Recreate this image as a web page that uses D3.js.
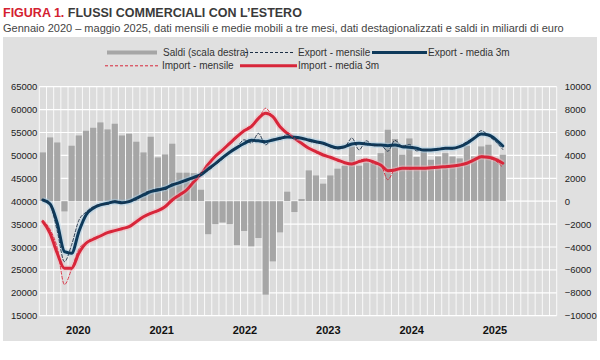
<!DOCTYPE html>
<html><head><meta charset="utf-8">
<script src="https://cdn.jsdelivr.net/npm/d3@7"></script>
<style>
html,body{margin:0;padding:0;background:#fff;}
svg{display:block;}
text{font-family:"Liberation Sans Narrow","Arial Narrow","Liberation Sans",sans-serif;}
</style></head>
<body>
<svg id="c" width="600" height="360"></svg>
<script>
// ---- DATA (Jan 2020 – May 2025, monthly) ----
const years = [2020, 2021, 2022, 2023, 2024, 2025];
const leftTicks = [15000, 20000, 25000, 30000, 35000, 40000, 45000, 50000, 55000, 60000, 65000];
const rightTicks = [-10000, -8000, -6000, -4000, -2000, 0, 2000, 4000, 6000, 8000, 10000];
const saldi = [4260, 5570, 5130, -890, 4845, 5740, 6150, 6415, 6880, 6270, 6765, 5740,
  5890, 5195, 4260, 5630, 3825, 4085, 5020, 2490, 2490, 2450, 1000, -2880,
  -2020, -1860, -2020, -3830, -2600, -3945, -3215, -8160, -5255, -2720, 830, -945,
  190, 2690, 2250, 1530, 2250, 2840, 3100, 4785, 3100, 3390, 3500, 4200,
  6240, 5430, 4060, 5480, 3860, 4435, 3620, 3910, 4200, 3900, 3740, 4845,
  3910, 4785, 4930, 3770, 4060];
const exportMensile = [40300, 39200, 33500, 26800, 30500, 35800, 37600, 38800, 39300, 39300, 40100, 39500,
  40100, 40300, 41700, 42300, 42700, 42500, 43800, 43900, 44600, 45000, 46200, 46700,
  48000, 49200, 50600, 51800, 53400, 52700, 54800, 52300, 53600, 53500, 54600, 53500,
  53900, 53100, 52800, 52500, 51900, 51400, 51800, 53800, 51200, 53200, 52100, 52300,
  50900, 53300, 52000, 52400, 51000, 51300, 51100, 51400, 51600, 51400, 52000, 53000,
  53800, 55400, 54300, 53000, 51300];
const exportMedia3m = [40265, 39390, 35180, 28980, 28630, 33350, 37000, 38450, 39180, 39550, 39900, 39680,
  39900, 40640, 41360, 42080, 42450, 42820, 43540, 44040, 44630, 45220, 45800, 47000,
  48200, 49500, 50700, 51700, 52600, 53300, 53200, 53000, 53360, 53740, 54000, 53950,
  53740, 53360, 52990, 52640, 52050, 51680, 51900, 52490, 52640, 52490, 52300, 52270,
  52120, 52270, 51900, 51770, 51550, 51180, 51180, 51330, 51550, 51550, 51900, 52640,
  53740, 54670, 54450, 53510, 52050];
const importMensile = [35800, 33800, 29800, 21800, 25200, 29500, 31000, 31900, 32300, 33200, 33600, 34100,
  34300, 35600, 36500, 37500, 37800, 39000, 40000, 41600, 42500, 44300, 46000, 48200,
  49800, 51000, 52900, 53800, 55500, 56600, 58000, 60300, 58300, 56200, 54800, 53800,
  52500, 51700, 50600, 50200, 49500, 49100, 48300, 48000, 48900, 49200, 48200, 47900,
  44700, 47000, 47300, 47000, 47200, 47100, 47400, 47300, 47600, 47700, 47900, 48300,
  49000, 49900, 49400, 48800, 47400];
const importMedia3m = [35530, 33000, 28630, 25360, 25360, 28630, 30810, 31690, 32400, 33130, 33570, 34000,
  34440, 35530, 36620, 37350, 37930, 38800, 40270, 41360, 42450, 44260, 45900, 48000,
  49800, 51180, 52640, 54080, 55400, 56270, 58100, 59190, 58450, 56270, 54830, 53740,
  52640, 51550, 50810, 50090, 49590, 49000, 48410, 48130, 48630, 49000, 48600, 47910,
  46670, 46820, 47190, 47190, 47190, 47190, 47330, 47400, 47540, 47690, 47910, 48280,
  49000, 49720, 49590, 49150, 48280];
const legendItems = ["Saldi (scala destra)", "Export - mensile", "Export - media 3m", "Import - mensile", "Import - media 3m"];

// ---- BUILD ----
const months = d3.range(years.length * 12); // Jan 2020 .. Dec 2025 axis slots
const svg = d3.select("#c");
const P = {l: 39.3, r: 556.7, t: 86.7, b: 315.7};
const col = {bg: "#e0e0e0", plot: "#dcdcdc", bar: "#a6a6a6", exp: "#0e3a5b", imp: "#d8263a", text: "#333"};

svg.append("rect").attr("x", 3).attr("y", 37).attr("width", 594).attr("height", 304).attr("fill", col.bg);
svg.append("rect").attr("x", P.l).attr("y", P.t).attr("width", P.r - P.l).attr("height", P.b - P.t).attr("fill", col.plot);

const x = d3.scaleBand().domain(months).range([P.l, P.r]).paddingInner(0.14).paddingOuter(0.07);
const yL = d3.scaleLinear().domain([15000, 65000]).range([P.b, P.t]);
const yR = d3.scaleLinear().domain([-10000, 10000]).range([P.b, P.t]);
const step = x.step();
const cx = i => x(i) + x.bandwidth() / 2;

// grid
const g = svg.append("g");
g.selectAll("line.v").data(d3.range(months.length + 1)).join("line")
  .attr("x1", i => P.l + i * step).attr("x2", i => P.l + i * step)
  .attr("y1", P.t).attr("y2", P.b).attr("stroke", "#fff").attr("stroke-opacity", 0.85).attr("stroke-width", 1);
g.selectAll("line.h").data(leftTicks).join("line")
  .attr("x1", P.l).attr("x2", P.r).attr("y1", d => yL(d)).attr("y2", d => yL(d))
  .attr("stroke", "#fff").attr("stroke-width", 1.2);

// bars
svg.append("g").selectAll("rect").data(saldi).join("rect")
  .attr("x", (d, i) => x(i)).attr("width", x.bandwidth())
  .attr("y", d => yR(Math.max(0, d))).attr("height", d => Math.abs(yR(d) - yR(0)))
  .attr("fill", col.bar);

// lines
const line = yS => d3.line().x((d, i) => cx(i)).y(d => yS(d)).curve(d3.curveMonotoneX);
function draw(data, color, w, dash, halo) {
  if (halo) svg.append("path").datum(data).attr("d", line(yL)).attr("fill", "none")
    .attr("stroke", halo).attr("stroke-width", w + 3).attr("stroke-opacity", 0.45).attr("stroke-linejoin", "round");
  svg.append("path").datum(data).attr("d", line(yL)).attr("fill", "none")
    .attr("stroke", color).attr("stroke-width", w).attr("stroke-dasharray", dash || null)
    .attr("stroke-linejoin", "round").attr("stroke-linecap", "round");
}
draw(importMedia3m, col.imp, 3, null, "#f2b5bd");
draw(exportMedia3m, col.exp, 3, null, "#a9cfe6");
draw(importMensile, col.imp, 0.9, "3,2");
draw(exportMensile, "#1c2f45", 0.9, "3,2");

// axes
const axL = svg.append("g").attr("transform", `translate(${P.l},0)`)
  .call(d3.axisLeft(yL).tickValues(leftTicks).tickSize(0).tickPadding(2).tickFormat(d3.format("d")));
const axR = svg.append("g").attr("transform", `translate(${P.r},0)`)
  .call(d3.axisRight(yR).tickValues(rightTicks).tickSize(0).tickPadding(8).tickFormat(d3.format("d")));
[axL, axR].forEach(a => {
  a.select(".domain").remove();
  a.selectAll("text").attr("font-size", 9.5).attr("fill", "#222")
    .attr("font-family", '"Liberation Sans Narrow","Arial Narrow",sans-serif');
});
const xl = d3.scaleLinear().domain([years[0], years[years.length - 1]]).range([78.3, 495]);
svg.append("g").selectAll("text").data(years).join("text")
  .attr("x", d => xl(d)).attr("y", 334).attr("text-anchor", "middle")
  .attr("font-size", 11).attr("font-weight", "bold").attr("fill", "#111").text(d => d);

// title
const t = svg.append("text").attr("x", 3).attr("y", 17).attr("font-size", 12.5).attr("font-weight", "bold");
t.append("tspan").attr("fill", "#d42030").text("FIGURA 1.");
t.append("tspan").attr("fill", "#3a3a3a").text(" FLUSSI COMMERCIALI CON L\u2019ESTERO");
svg.append("text").attr("x", 3).attr("y", 31.5).attr("font-size", 11).attr("fill", "#444")
  .text("Gennaio 2020 \u2013 maggio 2025, dati mensili e medie mobili a tre mesi, dati destagionalizzati e saldi in miliardi di euro");

// legend
const L = svg.append("g").attr("font-size", 10).attr("fill", col.text);
const leg = [
  {x1: 107, x2: 157, y: 52.5, tx: 163, type: "bar"},
  {x1: 245, x2: 293, y: 52.5, tx: 298, type: "dash", c: "#1c2f45"},
  {x1: 372, x2: 427, y: 52.5, tx: 428, type: "solid", c: col.exp},
  {x1: 105, x2: 160, y: 65.8, tx: 162, type: "dash", c: col.imp},
  {x1: 240, x2: 297, y: 65.8, tx: 298, type: "solid", c: col.imp}
];
leg.forEach((o, i) => {
  if (o.type === "bar") L.append("rect").attr("x", o.x1).attr("y", o.y - 2).attr("width", o.x2 - o.x1).attr("height", 4).attr("fill", col.bar);
  else L.append("line").attr("x1", o.x1).attr("x2", o.x2).attr("y1", o.y).attr("y2", o.y)
    .attr("stroke", o.c).attr("stroke-width", o.type === "solid" ? 3 : 1).attr("stroke-dasharray", o.type === "dash" ? "3,2" : null);
  L.append("text").attr("x", o.tx).attr("y", o.y + 3.5).text(legendItems[i]);
});
</script>
</body></html>
